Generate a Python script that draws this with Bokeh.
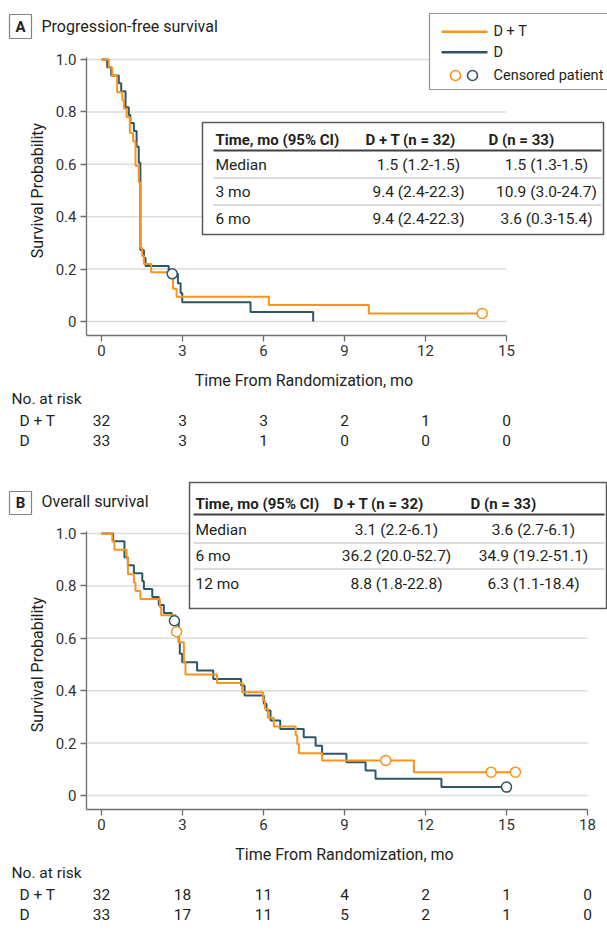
import math
from bokeh.plotting import figure
from bokeh.models import Range1d, FixedTicker, Label, BoxAnnotation, CustomJSTickFormatter
from bokeh.layouts import column
from bokeh.embed import file_html
from bokeh.resources import INLINE

# ---------------- data ----------------
# Panel A: progression-free survival (Kaplan-Meier steps)
pfs_dt_time = [0, 0.27, 0.40, 0.58, 0.77, 0.83, 0.93, 1.05, 1.17, 1.26, 1.38, 1.44, 1.51, 1.57, 1.84, 2.65, 2.78, 6.2, 9.9, 14.1]
pfs_dt_surv = [1.0, 0.969, 0.938, 0.875, 0.844, 0.813, 0.781, 0.719, 0.688, 0.594, 0.531, 0.281, 0.25, 0.219, 0.188, 0.125, 0.094, 0.063, 0.031, 0.031]
pfs_d_time = [0, 0.21, 0.36, 0.64, 0.73, 0.89, 1.01, 1.07, 1.20, 1.30, 1.38, 1.44, 1.57, 1.63, 2.49, 2.83, 2.93, 2.99, 5.52, 7.84]
pfs_d_surv = [1.0, 0.970, 0.939, 0.909, 0.879, 0.818, 0.788, 0.758, 0.727, 0.667, 0.606, 0.273, 0.242, 0.212, 0.182, 0.146, 0.109, 0.073, 0.036, 0.0]
pfs_dt_cens_time = [14.1]
pfs_dt_cens_surv = [0.031]
pfs_d_cens_time = [2.62]
pfs_d_cens_surv = [0.182]

# Panel B: overall survival
os_dt_time = [0, 0.40, 0.48, 0.93, 0.98, 1.20, 1.26, 1.44, 2.16, 2.21, 2.75, 2.86, 3.05, 3.11, 4.28, 5.21, 5.98, 6.05, 6.16, 6.38, 7.19, 7.25, 7.31, 8.17, 11.57, 15.33]
os_dt_surv = [1.0, 0.969, 0.938, 0.906, 0.844, 0.813, 0.781, 0.75, 0.719, 0.688, 0.625, 0.585, 0.509, 0.462, 0.429, 0.394, 0.363, 0.331, 0.297, 0.263, 0.23, 0.197, 0.161, 0.134, 0.089, 0.089]
os_d_time = [0, 0.43, 0.85, 0.975, 1.20, 1.51, 1.57, 1.88, 2.12, 2.31, 2.60, 2.86, 2.90, 2.99, 3.54, 4.14, 5.17, 5.30, 6.01, 6.11, 6.26, 6.62, 7.49, 7.93, 8.17, 9.07, 9.78, 10.15, 12.59, 15.0]
os_d_surv = [1.0, 0.970, 0.909, 0.879, 0.848, 0.818, 0.788, 0.758, 0.727, 0.697, 0.667, 0.585, 0.541, 0.509, 0.477, 0.445, 0.42, 0.382, 0.35, 0.324, 0.286, 0.254, 0.222, 0.19, 0.159, 0.127, 0.095, 0.064, 0.032, 0.032]
os_dt_cens_time = [2.78, 10.53, 14.43, 15.33]
os_dt_cens_surv = [0.625, 0.134, 0.089, 0.089]
os_d_cens_time = [2.70, 15.0]
os_d_cens_surv = [0.667, 0.032]

x_ticks_pfs = [0, 3, 6, 9, 12, 15]
x_ticks_os = [0, 3, 6, 9, 12, 15, 18]
y_ticks = [0, 0.2, 0.4, 0.6, 0.8, 1.0]

pfs_risk_dt = [32, 3, 3, 2, 1, 0]
pfs_risk_d = [33, 3, 1, 0, 0, 0]
os_risk_dt = [32, 18, 11, 4, 2, 1, 0]
os_risk_d = [33, 17, 11, 5, 2, 1, 0]

table_header = ["Time, mo (95% CI)", "D + T (n = 32)", "D (n = 33)"]
pfs_rows = ["Median", "3 mo", "6 mo"]
pfs_dt_vals = ["1.5 (1.2-1.5)", "9.4 (2.4-22.3)", "9.4 (2.4-22.3)"]
pfs_d_vals = ["1.5 (1.3-1.5)", "10.9 (3.0-24.7)", "3.6 (0.3-15.4)"]
os_rows = ["Median", "6 mo", "12 mo"]
os_dt_vals = ["3.1 (2.2-6.1)", "36.2 (20.0-52.7)", "8.8 (1.8-22.8)"]
os_d_vals = ["3.6 (2.7-6.1)", "34.9 (19.2-51.1)", "6.3 (1.1-18.4)"]

series_names = ["D + T", "D"]

# ---------------- style / geometry ----------------
ORANGE = "#F7941D"
BLUE = "#2E5669"
TEXT = "#231F20"
TICK = "#333333"
AXIS = "#6D6E71"
GRID = "#DCDDDE"
FONT = "Roboto"
W = 607
X0 = 101.0       # page x of month 0
PXM = 27.0       # px per month
PXU = 262.0      # px per unit survival
AX_X = 86.0      # page x of y-axis spine


def make_panel(page_top, height, y0_page, y1_page, axis_page, x_end, x_ticks):
    """Frame covers the whole canvas; axes are placed at fixed locations."""
    xr = Range1d((0 - X0) / PXM, (W - X0) / PXM)
    yr = Range1d((y0_page - (page_top + height)) / PXU, (y0_page - page_top) / PXU)
    p = figure(width=W, height=height, output_backend="svg", toolbar_location=None,
               x_range=xr, y_range=yr,
               min_border_left=0, min_border_right=0, min_border_top=0, min_border_bottom=0)
    p.outline_line_color = None
    p.background_fill_color = "white"
    p.border_fill_color = "white"
    p.xgrid.visible = False
    p.ygrid.visible = False
    x_axis_at = (y0_page - axis_page) / PXU
    y_axis_at = (AX_X - X0) / PXM
    y_top = 1.0 + 2.0 / PXU
    # light horizontal grid lines from the spine to the last tick
    p.segment(x0=[y_axis_at] * len(y_ticks), x1=[x_end] * len(y_ticks), y0=y_ticks, y1=y_ticks,
              line_color=GRID, line_width=1.5)
    p.xaxis.fixed_location = x_axis_at
    p.yaxis.fixed_location = y_axis_at
    p.xaxis.bounds = (y_axis_at, x_end)
    p.yaxis.bounds = (x_axis_at, y_top)
    p.yaxis.ticker = FixedTicker(ticks=y_ticks)
    p.xaxis.ticker = FixedTicker(ticks=x_ticks)
    p.yaxis.formatter = CustomJSTickFormatter(code="return tick == 0 ? '0' : tick.toFixed(1);")
    for ax in (p.xaxis, p.yaxis):
        ax.axis_line_color = AXIS
        ax.axis_line_width = 1.3
        ax.major_tick_line_color = AXIS
        ax.major_tick_line_width = 1.3
        ax.major_tick_out = 6
        ax.major_tick_in = 0
        ax.minor_tick_line_color = None
        ax.major_label_text_font = FONT
        ax.major_label_text_font_size = "15px"
        ax.major_label_text_color = TICK
    p.yaxis.major_label_standoff = 4
    p.xaxis.major_label_standoff = 3
    return p


def txt(p, fb, x, y, text, size="15.5px", align="left", bold=False, color=TEXT,
        x_data=False, y_data=False, angle=0.0):
    p.add_layout(Label(x=x, y=y if y_data else fb - y,
                       x_units="data" if x_data else "screen",
                       y_units="data" if y_data else "screen",
                       text=text, text_font=FONT, text_font_size=size,
                       text_font_style="bold" if bold else "normal",
                       text_color=color, text_align=align, text_baseline="middle", angle=angle))


def box(p, fb, l, t, r, b, fill="white", line=None, lw=1.0, radius=0):
    p.add_layout(BoxAnnotation(left=l, right=r, top=fb - t, bottom=fb - b,
                               left_units="screen", right_units="screen",
                               top_units="screen", bottom_units="screen",
                               fill_color=fill, fill_alpha=1.0,
                               line_color=line, line_alpha=1.0, line_width=lw,
                               border_radius=radius))


def curves(p, dt_t, dt_s, d_t, d_s, dtc_t, dtc_s, dc_t, dc_s):
    p.step(x=d_t, y=d_s, mode="after", line_color=BLUE, line_width=2)
    p.step(x=dt_t, y=dt_s, mode="after", line_color=ORANGE, line_width=2)
    p.scatter(x=dc_t, y=dc_s, marker="circle", size=10, fill_color="white", line_color=BLUE, line_width=1.5)
    p.scatter(x=dtc_t, y=dtc_s, marker="circle", size=10, fill_color="white", line_color=ORANGE, line_width=1.5)


def table(p, fb, l, t, r, b, header_y, line_y, row_ys, sep_ys, c1x, c2x, c3x, v2x, v3x, rows, v2, v3):
    box(p, fb, l, t, r, b, fill="white", line="#58595B", lw=1.5)
    box(p, fb, c1x - 2, line_y - 1, r - 2, line_y + 1, fill="#414042")
    for sy in sep_ys:
        box(p, fb, c1x - 2, sy - 0.75, r - 2, sy + 0.75, fill="#CFCFCF")
    txt(p, fb, c1x, header_y, table_header[0], bold=True, size="15px")
    txt(p, fb, c2x, header_y, table_header[1], bold=True, size="15px")
    txt(p, fb, c3x, header_y, table_header[2], bold=True, size="15px")
    for i in range(len(rows)):
        txt(p, fb, c1x, row_ys[i], rows[i])
        txt(p, fb, v2x, row_ys[i], v2[i], align="center")
        txt(p, fb, v3x, row_ys[i], v3[i], align="center")


def at_risk(p, fb, axis_page, ticks, r_dt, r_d, title_x):
    txt(p, fb, title_x, axis_page + 45, "Time From Randomization, mo", size="16px", align="center", x_data=True)
    txt(p, fb, 11, axis_page + 63, "No. at risk")
    txt(p, fb, 19, axis_page + 85, series_names[0])
    txt(p, fb, 19, axis_page + 105, series_names[1])
    for i, t in enumerate(ticks):
        txt(p, fb, t, axis_page + 85, str(r_dt[i]), align="center", x_data=True)
        txt(p, fb, t, axis_page + 105, str(r_d[i]), align="center", x_data=True)


# ---------------- Panel A ----------------
TOP_A, H_A = 0, 466
FB_A = TOP_A + H_A
pA = make_panel(TOP_A, H_A, 321, 59, 335, 15, x_ticks_pfs)
curves(pA, pfs_dt_time, pfs_dt_surv, pfs_d_time, pfs_d_surv,
       pfs_dt_cens_time, pfs_dt_cens_surv, pfs_d_cens_time, pfs_d_cens_surv)
box(pA, FB_A, 9, 14, 31, 38, fill="white", line="#808285", lw=1.2)
txt(pA, FB_A, 20, 26.5, "A", size="15px", align="center", bold=True)
txt(pA, FB_A, 41, 26, "Progression-free survival", size="16px")
txt(pA, FB_A, 37, 0.5, "Survival Probability", size="16px", align="center", angle=math.pi / 2, y_data=True)
# legend
box(pA, FB_A, 429, 13, 612, 89, fill="white", line="#939598", lw=1.2)
box(pA, FB_A, 441, 30, 487, 32.5, fill=ORANGE)
box(pA, FB_A, 441, 50.5, 487, 53, fill=BLUE)
box(pA, FB_A, 450, 70, 460, 80, fill="white", line=ORANGE, lw=1.6, radius=5)
box(pA, FB_A, 467, 70, 477, 80, fill="white", line=BLUE, lw=1.6, radius=5)
txt(pA, FB_A, 493, 31, series_names[0], size="14.5px")
txt(pA, FB_A, 493, 52, series_names[1], size="14.5px")
txt(pA, FB_A, 493, 75, "Censored patient", size="14.5px")
table(pA, FB_A, 202, 122, 603, 234, 139, 150, [164, 191.5, 218], [177.5, 204.5],
      215, 365, 488, 418, 546, pfs_rows, pfs_dt_vals, pfs_d_vals)
at_risk(pA, FB_A, 335, x_ticks_pfs, pfs_risk_dt, pfs_risk_d, 7.5)

# ---------------- Panel B ----------------
TOP_B, H_B = 466, 474
FB_B = TOP_B + H_B
pB = make_panel(TOP_B, H_B, 795, 533, 809, 18, x_ticks_os)
curves(pB, os_dt_time, os_dt_surv, os_d_time, os_d_surv,
       os_dt_cens_time, os_dt_cens_surv, os_d_cens_time, os_d_cens_surv)
box(pB, FB_B, 9, 491, 31, 514, fill="white", line="#808285", lw=1.2)
txt(pB, FB_B, 20, 502.5, "B", size="15px", align="center", bold=True)
txt(pB, FB_B, 41, 501, "Overall survival", size="16px")
txt(pB, FB_B, 37, 0.5, "Survival Probability", size="16px", align="center", angle=math.pi / 2, y_data=True)
table(pB, FB_B, 189, 482, 606, 608, 503, 514, [529, 555.5, 583], [542.5, 568.5],
      195, 333, 470, 396, 533, os_rows, os_dt_vals, os_d_vals)
at_risk(pB, FB_B, 809, x_ticks_os, os_risk_dt, os_risk_d, 9.0)

layout = column(pA, pB, spacing=0)
open("out.html", "w").write(file_html(layout, INLINE))
